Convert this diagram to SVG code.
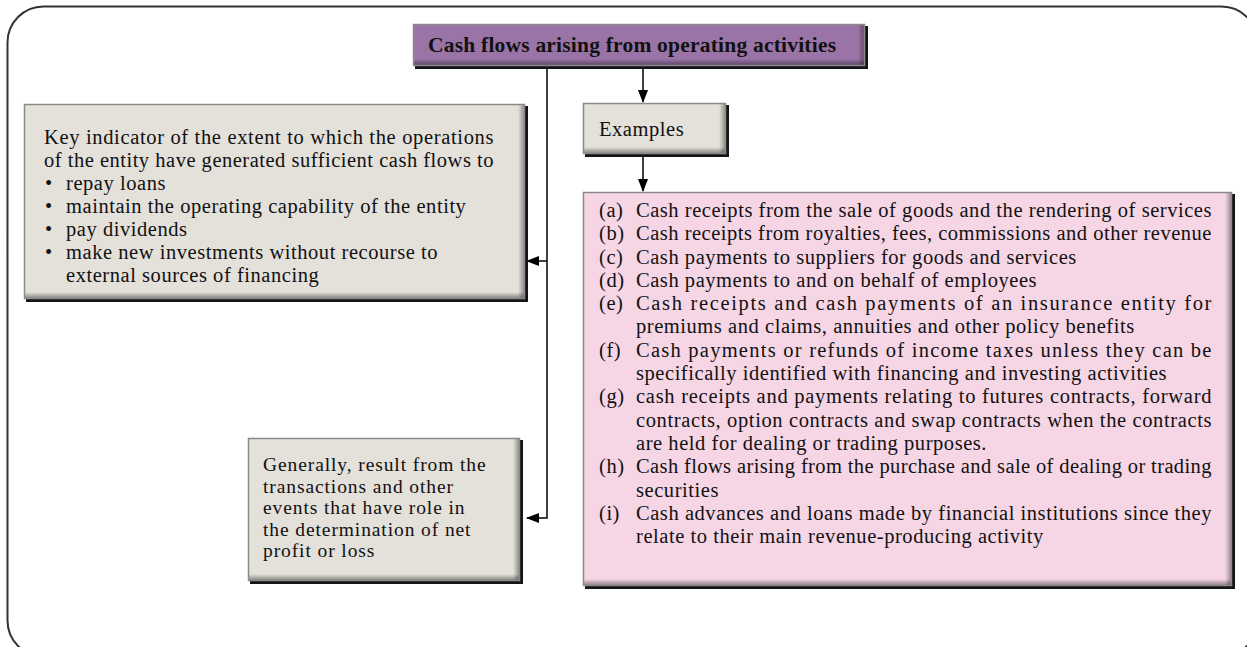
<svg xmlns="http://www.w3.org/2000/svg" width="1247" height="647" viewBox="0 0 1247 647">
<defs>
<style>
.t{font-family:"Liberation Serif","Times New Roman",serif;font-size:20.5px;letter-spacing:0.55px;fill:#111}
.g{font-family:"Liberation Serif","Times New Roman",serif;font-size:19.5px;letter-spacing:0.9px;fill:#111}
.tb{font-family:"Liberation Serif","Times New Roman",serif;font-size:21.5px;font-weight:bold;fill:#111}
.sh{fill:#151515}
.gray{fill:#e4e0da}
.pink{fill:#f6d5e5}
.purple{fill:#9b74a7}
.edge{fill:none;stroke:#8a8a8a;stroke-width:1.5}
.conn{fill:none;stroke:#000;stroke-width:1.5}
</style>
<linearGradient id="gb" x1="0" y1="0" x2="0" y2="1">
<stop offset="0" stop-color="#000" stop-opacity="0"/>
<stop offset="1" stop-color="#000" stop-opacity="0.45"/>
</linearGradient>
<linearGradient id="gr" x1="0" y1="0" x2="1" y2="0">
<stop offset="0" stop-color="#000" stop-opacity="0"/>
<stop offset="1" stop-color="#000" stop-opacity="0.4"/>
</linearGradient>
<marker id="ah" markerWidth="13" markerHeight="10" refX="12" refY="5" orient="auto" markerUnits="userSpaceOnUse">
<path d="M0,0 L13,5 L0,10 z" fill="#000"/>
</marker>
</defs>
<rect width="1247" height="647" fill="#fff"/>
<rect id="frame" x="7.5" y="6.5" width="1250" height="650" rx="36" ry="36" fill="none" stroke="#333" stroke-width="2"/>

<g id="connectors">
<path class="conn" d="M547,67 V518 H527" marker-end="url(#ah)"/>
<path class="conn" d="M547,261 H527" marker-end="url(#ah)"/>
<path class="conn" d="M643,67 V102" marker-end="url(#ah)"/>
<path class="conn" d="M643,155 V191" marker-end="url(#ah)"/>
</g>

<g id="title">
<rect class="sh" x="415" y="26" width="453" height="43"/>
<rect class="purple" x="413" y="24" width="452" height="42"/>
<rect x="413" y="59" width="452" height="7" fill="url(#gb)"/>
<rect x="858" y="24" width="7" height="42" fill="url(#gr)"/>
<rect class="edge" x="413.5" y="24.5" width="451" height="41"/>
<text class="tb" x="428" y="52" textLength="408" lengthAdjust="spacing">Cash flows arising from operating activities</text>
</g>

<g id="examples">
<rect class="sh" x="585" y="105" width="144" height="52"/>
<rect class="gray" x="583" y="103" width="143" height="51"/>
<rect x="583" y="147" width="143" height="7" fill="url(#gb)"/>
<rect x="719" y="103" width="7" height="51" fill="url(#gr)"/>
<rect class="edge" x="583.5" y="103.5" width="142" height="50"/>
<text class="t" x="599" y="136">Examples</text>
</g>

<g id="key">
<rect class="sh" x="26" y="106" width="502" height="196"/>
<rect class="gray" x="24" y="104" width="501" height="195"/>
<rect x="24" y="292" width="501" height="7" fill="url(#gb)"/>
<rect x="518" y="104" width="7" height="195" fill="url(#gr)"/>
<rect class="edge" x="24.5" y="104.5" width="500" height="194"/>
<text class="t" x="44" y="144" textLength="450" lengthAdjust="spacing">Key indicator of the extent to which the operations</text>
<text class="t" x="44" y="167" textLength="450" lengthAdjust="spacing">of the entity have generated sufficient cash flows to</text>
<text class="t" x="45" y="190">•</text><text class="t" x="66" y="190">repay loans</text>
<text class="t" x="45" y="213">•</text><text class="t" x="66" y="213">maintain the operating capability of the entity</text>
<text class="t" x="45" y="236">•</text><text class="t" x="66" y="236">pay dividends</text>
<text class="t" x="45" y="259">•</text><text class="t" x="66" y="259">make new investments without recourse to</text>
<text class="t" x="66" y="282">external sources of financing</text>
</g>

<g id="generally">
<rect class="sh" x="250" y="440" width="273" height="144"/>
<rect class="gray" x="248" y="438" width="272" height="143"/>
<rect x="248" y="574" width="272" height="7" fill="url(#gb)"/>
<rect x="513" y="438" width="7" height="143" fill="url(#gr)"/>
<rect class="edge" x="248.5" y="438.5" width="271" height="142"/>
<text class="g" x="263" y="471">Generally, result from the</text>
<text class="g" x="263" y="492.6">transactions and other</text>
<text class="g" x="263" y="514.2">events that have role in</text>
<text class="g" x="263" y="535.8">the determination of net</text>
<text class="g" x="263" y="557.4">profit or loss</text>
</g>

<g id="examples-list">
<rect class="sh" x="585" y="194" width="650" height="395"/>
<rect class="pink" x="583" y="192" width="649" height="394"/>
<rect x="583" y="579" width="649" height="7" fill="url(#gb)"/>
<rect x="1225" y="192" width="7" height="394" fill="url(#gr)"/>
<rect class="edge" x="583.5" y="192.5" width="648" height="393"/>
<text class="t" x="599" y="217">(a)</text><text class="t" x="636" y="217" textLength="576" lengthAdjust="spacing">Cash receipts from the sale of goods and the rendering of services</text>
<text class="t" x="599" y="240">(b)</text><text class="t" x="636" y="240" textLength="576" lengthAdjust="spacing">Cash receipts from royalties, fees, commissions and other revenue</text>
<text class="t" x="599" y="264">(c)</text><text class="t" x="636" y="264">Cash payments to suppliers for goods and services</text>
<text class="t" x="599" y="287">(d)</text><text class="t" x="636" y="287">Cash payments to and on behalf of employees</text>
<text class="t" x="599" y="310">(e)</text><text class="t" x="636" y="310" textLength="576" lengthAdjust="spacing">Cash receipts and cash payments of an insurance entity for</text>
<text class="t" x="636" y="333">premiums and claims, annuities and other policy benefits</text>
<text class="t" x="599" y="357">(f)</text><text class="t" x="636" y="357" textLength="576" lengthAdjust="spacing">Cash payments or refunds of income taxes unless they can be</text>
<text class="t" x="636" y="380">specifically identified with financing and investing activities</text>
<text class="t" x="599" y="403">(g)</text><text class="t" x="636" y="403" textLength="576" lengthAdjust="spacing">cash receipts and payments relating to futures contracts, forward</text>
<text class="t" x="636" y="427" textLength="576" lengthAdjust="spacing">contracts, option contracts and swap contracts when the contracts</text>
<text class="t" x="636" y="450">are held for dealing or trading purposes.</text>
<text class="t" x="599" y="473">(h)</text><text class="t" x="636" y="473" textLength="576" lengthAdjust="spacing">Cash flows arising from the purchase and sale of dealing or trading</text>
<text class="t" x="636" y="497">securities</text>
<text class="t" x="599" y="520">(i)</text><text class="t" x="636" y="520" textLength="576" lengthAdjust="spacing">Cash advances and loans made by financial institutions since they</text>
<text class="t" x="636" y="543">relate to their main revenue-producing activity</text>
</g>
</svg>
